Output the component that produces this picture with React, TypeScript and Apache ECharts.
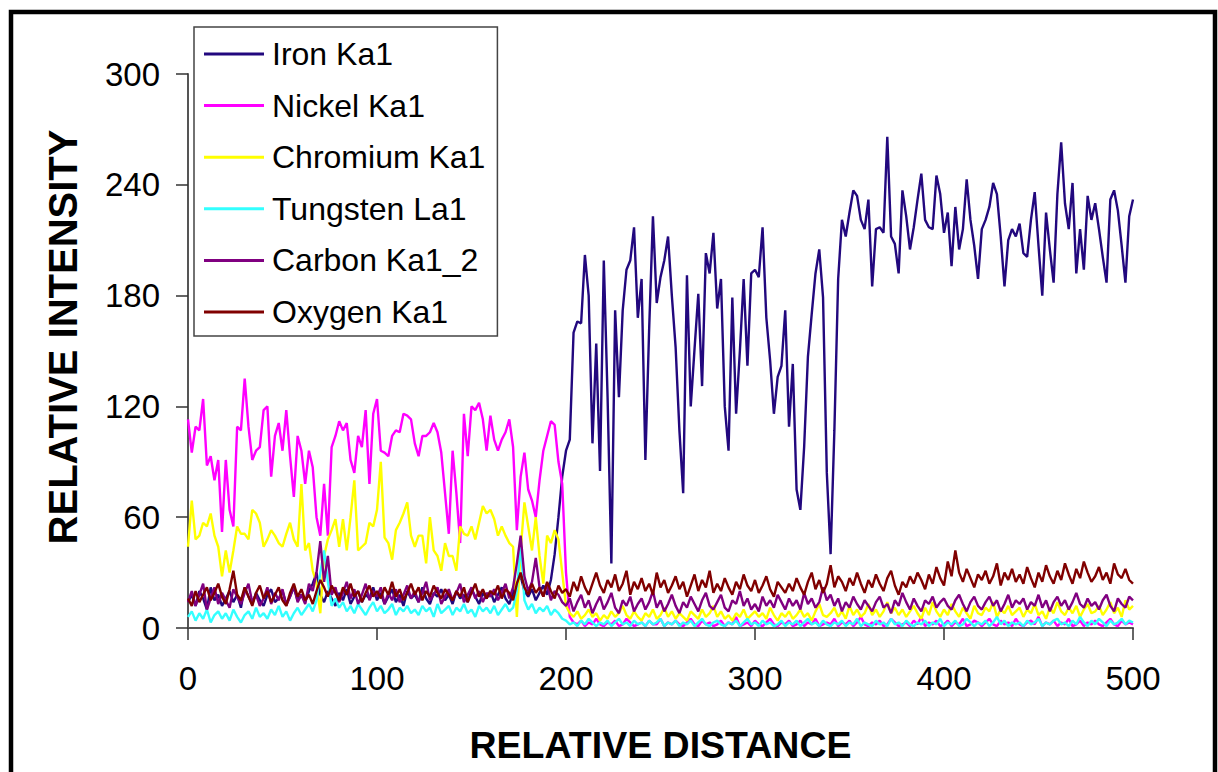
import React, { useEffect, useRef } from "react";
import * as echarts from "echarts";

// Sampling grid of relative distance (every 2 units from 0 to 500)
const distance: number[] = Array.from({ length: 251 }, (_, i) => i * 2);

const seriesNames = ["Iron Ka1", "Nickel Ka1", "Chromium Ka1", "Tungsten La1", "Carbon Ka1_2", "Oxygen Ka1"];
const seriesColors = ["#22087e", "#ff00ff", "#ffff00", "#33ffff", "#800080", "#800000"];

const yTicks = [0, 60, 120, 180, 240, 300];
const xTicks = [0, 100, 200, 300, 400, 500];

const iron: number[] = [
  14, 18, 12, 20, 16, 10, 22, 15, 18, 12,
  16, 20, 14, 18, 11, 22, 17, 13, 19, 15,
  12, 18, 21, 14, 16, 20, 13, 17, 22, 15,
  18, 14, 20, 24, 30, 18, 14, 20, 16, 12,
  19, 15, 21, 13, 17, 20, 14, 18, 16, 22,
  15, 19, 13, 17, 21, 14, 18, 12, 20, 16,
  18, 14, 22, 16, 13, 19, 17, 21, 15, 18,
  13, 20, 16, 18, 14, 21, 17, 13, 19, 16,
  20, 14, 18, 22, 16, 13, 19, 24, 28, 20,
  17, 21, 15, 19, 23, 18, 26, 40, 60, 82,
  96, 102, 160, 166, 165, 202, 180, 100, 154, 85,
  199, 125, 35, 172, 125, 172, 194, 199, 217, 168,
  189, 91, 162, 223, 176, 190, 199, 212, 180, 152,
  107, 73, 191, 120, 151, 181, 131, 203, 192, 214,
  173, 189, 120, 96, 179, 116, 150, 189, 142, 192,
  194, 190, 217, 168, 145, 116, 136, 142, 172, 109,
  143, 75, 64, 98, 147, 170, 192, 205, 179, 84,
  40, 107, 189, 221, 212, 225, 237, 234, 221, 216,
  232, 185, 216, 217, 214, 266, 212, 208, 192, 237,
  223, 205, 217, 232, 246, 221, 217, 216, 245, 235,
  214, 225, 196, 228, 205, 216, 243, 221, 207, 189,
  216, 221, 228, 241, 235, 212, 185, 210, 216, 212,
  219, 203, 201, 221, 236, 207, 180, 225, 205, 187,
  235, 263, 230, 216, 241, 192, 216, 194, 234, 221,
  230, 216, 201, 187, 232, 237, 226, 207, 187, 223,
  232,
];

const nickel: number[] = [
  113, 95, 109, 107, 124, 88, 93, 80, 91, 52,
  91, 64, 55, 109, 107, 135, 109, 91, 96, 98,
  118, 120, 82, 104, 111, 96, 118, 93, 71, 104,
  96, 78, 96, 87, 60, 50, 78, 50, 98, 104,
  112, 107, 111, 91, 84, 104, 98, 118, 78, 116,
  124, 96, 95, 93, 104, 107, 106, 116, 115, 113,
  100, 93, 104, 104, 106, 111, 106, 95, 73, 51,
  96, 73, 46, 116, 93, 120, 118, 122, 113, 96,
  115, 102, 96, 102, 106, 113, 98, 53, 82, 95,
  75, 69, 60, 80, 96, 104, 112, 110, 90, 78,
  30, 6, 3, 2, 4, 1, 3, 2, 5, 2,
  1, 3, 2, 4, 1, 2, 5, 3, 1, 2,
  3, 1, 4, 2, 2, 5, 1, 3, 2, 4,
  2, 1, 3, 5, 2, 1, 4, 2, 3, 1,
  2, 4, 1, 3, 2, 6, 1, 2, 3, 1,
  4, 2, 1, 3, 5, 2, 1, 3, 2, 4,
  1, 2, 4, 1, 3, 2, 5, 1, 2, 3,
  2, 5, 1, 3, 2, 4, 1, 3, 6, 2,
  1, 3, 2, 4, 1, 2, 5, 3, 1, 2,
  3, 1, 4, 2, 6, 1, 3, 2, 4, 1,
  2, 4, 1, 3, 2, 5, 1, 2, 4, 3,
  1, 3, 5, 2, 1, 4, 2, 3, 1, 5,
  2, 1, 3, 4, 2, 6, 1, 3, 2, 4,
  1, 3, 2, 5, 1, 2, 4, 1, 3, 2,
  4, 2, 1, 3, 5, 2, 1, 4, 2, 3,
  2,
];

const chromium: number[] = [
  44, 69, 48, 50, 57, 55, 62, 50, 44, 28,
  42, 30, 42, 55, 51, 51, 48, 64, 62, 57,
  44, 48, 53, 50, 46, 44, 51, 57, 48, 44,
  78, 42, 46, 31, 24, 8, 39, 48, 53, 59,
  44, 59, 42, 60, 80, 42, 44, 46, 57, 55,
  64, 90, 49, 46, 37, 53, 57, 62, 68, 50,
  44, 50, 50, 35, 60, 42, 39, 31, 46, 39,
  39, 31, 55, 51, 50, 55, 48, 57, 66, 62,
  64, 59, 50, 55, 50, 46, 44, 6, 42, 68,
  55, 42, 60, 39, 24, 50, 46, 53, 48, 30,
  12, 8, 6, 9, 5, 7, 10, 6, 8, 4,
  7, 5, 9, 6, 8, 12, 7, 5, 9, 6,
  4, 8, 6, 10, 5, 7, 11, 6, 9, 5,
  8, 6, 4, 9, 7, 5, 10, 6, 8, 12,
  6, 9, 5, 7, 4, 8, 6, 10, 5, 7,
  9, 6, 8, 5, 11, 7, 4, 8, 6, 9,
  5, 7, 10, 6, 8, 4, 9, 13, 7, 6,
  8, 11, 6, 9, 5, 12, 7, 10, 6, 8,
  13, 7, 10, 6, 9, 14, 8, 11, 7, 10,
  6, 9, 12, 8, 5, 11, 7, 14, 9, 6,
  10, 7, 13, 9, 6, 11, 8, 5, 12, 8,
  7, 11, 9, 14, 6, 10, 8, 12, 7, 9,
  11, 6, 10, 8, 13, 7, 9, 5, 11, 8,
  14, 9, 7, 11, 8, 12, 6, 10, 13, 8,
  9, 12, 7, 10, 14, 8, 11, 6, 15, 10,
  12,
];

const tungsten: number[] = [
  6, 9, 4, 8, 5, 10, 3, 7, 9, 5,
  8, 4, 10, 6, 3, 7, 9, 5, 11, 6,
  8, 5, 10, 7, 12, 6, 9, 4, 8, 11,
  7, 10, 13, 9, 15, 30, 42, 25, 12, 16,
  11, 14, 9, 12, 8, 13, 10, 7, 11, 14,
  9, 12, 8, 10, 13, 7, 11, 9, 12, 8,
  10, 7, 12, 9, 11, 6, 13, 8, 10, 12,
  7, 11, 9, 13, 8, 10, 6, 12, 9, 11,
  8, 12, 7, 10, 13, 9, 11, 20, 46, 15,
  10, 13, 8, 11, 9, 12, 7, 10, 8, 5,
  4, 2, 3, 1, 4, 2, 5, 3, 1, 3,
  2, 4, 1, 3, 5, 2, 3, 1, 4, 2,
  3, 1, 4, 2, 3, 5, 1, 3, 2, 4,
  1, 3, 2, 4, 1, 3, 5, 2, 1, 3,
  4, 2, 1, 3, 2, 4, 1, 3, 5, 2,
  3, 1, 4, 2, 3, 1, 2, 4, 1, 3,
  2, 4, 1, 3, 5, 2, 3, 1, 4, 2,
  1, 3, 2, 4, 1, 3, 2, 5, 1, 3,
  2, 1, 4, 2, 3, 1, 5, 2, 3, 1,
  4, 2, 1, 3, 2, 4, 1, 3, 2, 5,
  1, 3, 2, 4, 1, 2, 5, 3, 1, 3,
  2, 4, 1, 3, 6, 2, 4, 1, 3, 2,
  3, 1, 4, 2, 3, 5, 1, 3, 2, 4,
  5, 2, 3, 1, 4, 2, 6, 3, 1, 4,
  2, 5, 3, 1, 4, 2, 3, 5, 2, 4,
  3,
];

const carbon: number[] = [
  14, 20, 12, 18, 24, 10, 16, 22, 13, 19,
  15, 11, 21, 17, 13, 19, 24, 14, 18, 12,
  16, 22, 13, 19, 15, 21, 12, 17, 23, 14,
  18, 13, 24, 20, 30, 47, 25, 39, 18, 22,
  14, 19, 25, 16, 21, 13, 18, 24, 15, 20,
  17, 22, 13, 19, 15, 21, 14, 18, 23, 16,
  20, 14, 19, 25, 15, 18, 22, 13, 17, 21,
  15, 19, 24, 14, 18, 22, 16, 20, 14, 19,
  17, 21, 15, 19, 24, 16, 22, 35, 50, 28,
  20, 25, 38, 22, 17, 24, 15, 20, 18, 14,
  12, 16, 9, 14, 18, 11, 15, 8, 13, 17,
  10, 14, 19, 11, 8, 15, 12, 17, 9, 13,
  16, 10, 14, 20, 11, 15, 9, 13, 18, 12,
  8, 14, 11, 17, 13, 9, 15, 19, 12, 10,
  14, 18, 11, 9, 15, 13, 20, 12, 16, 10,
  13, 9, 17, 12, 15, 11, 18, 14, 10, 16,
  12, 15, 10, 19, 13, 16, 11, 14, 22, 15,
  18, 12, 16, 9, 14, 11, 17, 13, 10, 15,
  12, 9, 14, 17, 11, 13, 8, 15, 12, 19,
  14, 10, 16, 12, 9, 15, 13, 17, 11, 14,
  16, 12, 10, 15, 18, 13, 9, 14, 17, 12,
  10, 14, 17, 12, 15, 9, 13, 18, 11, 15,
  13, 16, 10, 14, 12, 18, 11, 15, 9, 14,
  17, 12, 15, 10, 14, 19, 13, 11, 16, 12,
  14, 10, 15, 18, 12, 9, 16, 13, 11, 17,
  15,
];

const oxygen: number[] = [
  16, 12, 20, 14, 18, 22, 15, 19, 24, 17,
  13, 21, 31, 18, 15, 22, 17, 12, 19, 23,
  16, 20, 14, 18, 22, 15, 12, 19, 24, 17,
  21, 15, 18, 13, 20, 26, 22, 17, 23, 19,
  15, 22, 18, 24, 17, 20, 14, 19, 23, 17,
  20, 16, 22, 18, 25, 17, 21, 15, 19, 24,
  18, 22, 15, 20, 17, 23, 19, 16, 21, 18,
  15, 20, 17, 22, 14, 19, 24, 17, 21, 16,
  20, 18, 23, 16, 21, 19, 15, 24, 30, 22,
  18, 24, 19, 22, 17, 25, 20, 16, 23, 19,
  21, 17, 25, 20, 28, 22, 18, 24, 30, 23,
  19, 26, 22, 29, 20, 24, 31, 18, 25, 21,
  27, 20, 24, 18, 30, 22, 26, 19, 23, 28,
  21, 25, 17, 23, 29, 20, 26, 22, 31, 19,
  24, 20, 27, 22, 18, 25, 21, 29, 23, 20,
  26, 19, 23, 28, 21, 17, 25, 22, 19, 24,
  20, 27, 22, 18, 25, 30, 21, 26, 19, 24,
  34, 22, 28, 25, 20, 27, 23, 30, 24, 19,
  26, 22, 29, 24, 20, 27, 31, 23, 18, 25,
  22, 28, 24, 30, 26, 21, 29, 24, 33, 27,
  23, 36, 28, 42, 30, 25, 32, 27, 22, 29,
  26, 31, 24, 28, 35, 23, 30, 26, 32, 25,
  29, 24, 33, 27, 22, 30, 25, 34, 28, 24,
  31, 26, 35, 29, 24, 32, 27, 36, 30, 25,
  28, 33, 26, 30, 24, 35, 29, 27, 32, 26,
  24,
];

const allValues = [iron, nickel, chromium, tungsten, carbon, oxygen];

const FONT = "'Liberation Sans', Arial, sans-serif";

export default function App() {
  const ref = useRef<HTMLDivElement>(null);

  useEffect(() => {
    if (!ref.current) return;
    const chart = echarts.init(ref.current, undefined, { renderer: "svg" });
    const series = seriesNames.map((name, k) => ({
      name,
      type: "line" as const,
      data: distance.map((x, i) => [x, allValues[k][i]]),
      showSymbol: false,
      symbol: "none",
      lineStyle: { width: 2.4, color: seriesColors[k] },
      itemStyle: { color: seriesColors[k] },
      emphasis: { disabled: true },
    }));

    chart.setOption({
      animation: false,
      backgroundColor: "#ffffff",
      textStyle: { fontFamily: FONT },
      grid: { left: 188, right: 85, top: 74, bottom: 144, containLabel: false },
      xAxis: {
        type: "value",
        min: xTicks[0],
        max: xTicks[xTicks.length - 1],
        interval: 100,
        name: "RELATIVE DISTANCE",
        nameLocation: "middle",
        nameGap: 98,
        nameTextStyle: { fontSize: 37.5, fontWeight: "bold", color: "#000", fontFamily: FONT },
        axisLine: { show: true, lineStyle: { color: "#555", width: 2 } },
        axisTick: { show: true, inside: false, length: 12, lineStyle: { color: "#333", width: 1.5 } },
        axisLabel: { fontSize: 33, color: "#000", margin: 34, fontFamily: FONT },
        splitLine: { show: false },
      },
      yAxis: {
        type: "value",
        min: yTicks[0],
        max: yTicks[yTicks.length - 1],
        interval: 60,
        axisLine: { show: true, lineStyle: { color: "#555", width: 2 } },
        axisTick: { show: true, inside: false, length: 12, lineStyle: { color: "#333", width: 1.5 } },
        axisLabel: { fontSize: 33, color: "#000", margin: 28, fontFamily: FONT },
        splitLine: { show: false },
      },
      legend: {
        orient: "vertical",
        left: 194,
        top: 27,
        padding: [9, 12, 6, 10],
        itemGap: 15.6,
        itemWidth: 60,
        itemHeight: 3,
        icon: "rect",
        backgroundColor: "#ffffff",
        borderColor: "#444",
        borderWidth: 1.5,
        textStyle: { fontSize: 32, color: "#000", fontFamily: FONT, lineHeight: 36, padding: [0, 0, 0, 3] },
        data: seriesNames,
        selectedMode: false,
      },
      graphic: [
        {
          type: "text",
          x: 63,
          y: 337,
          rotation: Math.PI / 2,
          silent: true,
          style: {
            text: "RELATIVE INTENSITY",
            fontSize: 40,
            fontWeight: "bold",
            fontFamily: FONT,
            fill: "#000",
            align: "center",
            verticalAlign: "middle",
          },
        },
        {
          type: "rect",
          shape: { x: 11, y: 12, width: 1204, height: 800 },
          style: { fill: "none", stroke: "#000", lineWidth: 4.5 },
          silent: true,
          z: 100,
        },
      ],
      series,
    });

    return () => {
      chart.dispose();
    };
  }, []);

  return (
    <div
      ref={ref}
      style={{ position: "absolute", left: 0, top: 0, width: 1218, height: 772 }}
    />
  );
}
